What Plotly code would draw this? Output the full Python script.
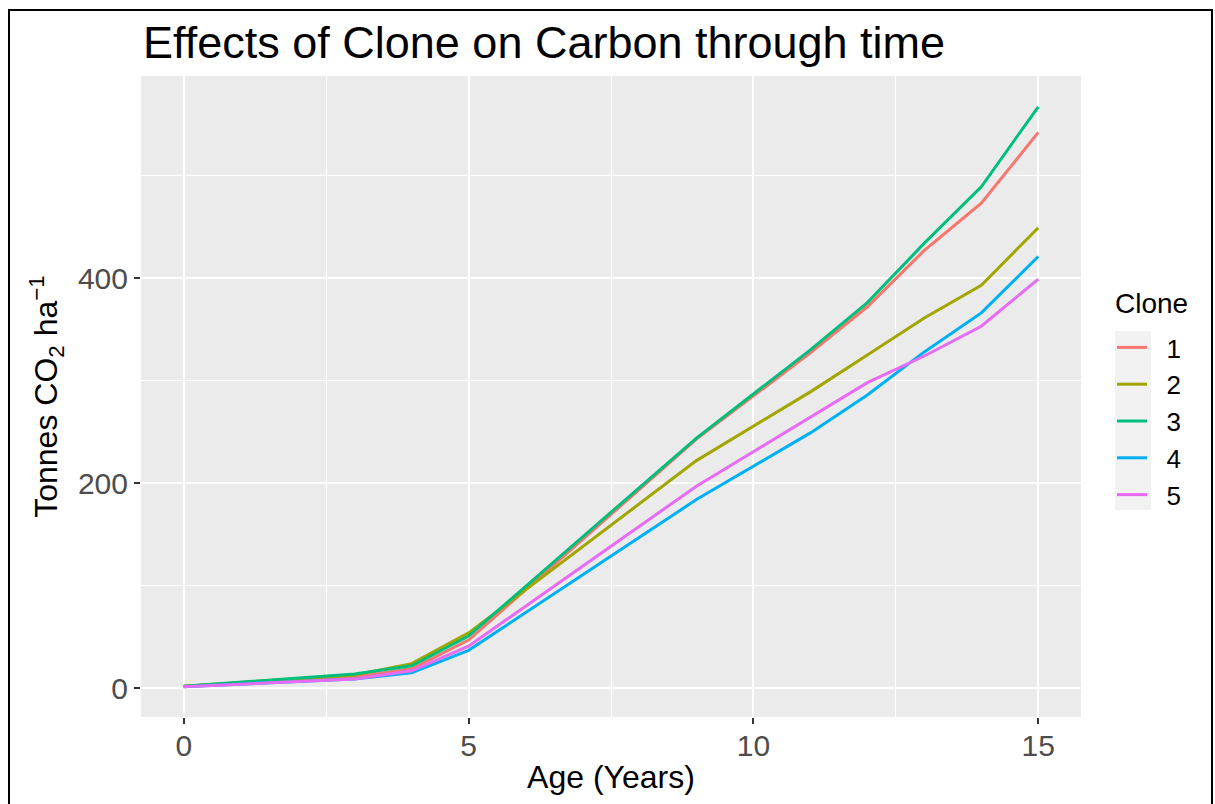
import plotly.graph_objects as go

ages = [0, 3, 4, 5, 9, 11, 12, 13, 14, 15]
clone_1 = [2, 11, 19, 47, 243, 327, 372, 427, 473, 542]
clone_2 = [2, 13, 24, 54, 222, 289, 325, 361, 393, 449]
clone_3 = [2, 14, 22, 51, 244, 330, 376, 434, 489, 567]
clone_4 = [1.5, 9, 15, 37, 184, 249, 286, 328, 366, 421]
clone_5 = [1.5, 9, 17, 41, 197, 264, 298, 324, 353, 399]
clone_names = ["1", "2", "3", "4", "5"]
clone_values = [clone_1, clone_2, clone_3, clone_4, clone_5]
colors = ["#F8766D", "#A3A500", "#00BF7D", "#00B0F6", "#E76BF3"]
x_ticks = [0, 5, 10, 15]
y_ticks = [0, 200, 400]

W, H = 1215, 804
L, R, T, B = 141, 134, 76, 87
pw, ph = W - L - R, H - T - B

def px(x):
    return (x - L) / pw

def py(y):
    return (H - B - y) / ph

fig = go.Figure()
for name, vals, col in zip(clone_names, clone_values, colors):
    fig.add_trace(go.Scatter(x=ages, y=vals, mode="lines", name="\u00a0\u00a0" + name,
                             line=dict(color=col, width=3)))

fig.update_layout(
    width=W, height=H,
    margin=dict(l=L, r=R, t=T, b=B, autoexpand=False),
    paper_bgcolor="white",
    plot_bgcolor="#EBEBEB",
    font=dict(family="Liberation Sans, Arial, sans-serif", color="black"),
    title=dict(text="Effects of Clone on Carbon through time",
               x=px(143), xref="paper", xanchor="left",
               y=1 - 42 / H, yref="container", yanchor="middle",
               font=dict(size=45, color="black")),
    xaxis=dict(range=[-0.75, 15.75], tickvals=x_ticks, ticktext=[str(v) for v in x_ticks],
               showgrid=True, gridcolor="white", gridwidth=2,
               minor=dict(tickvals=[2.5, 7.5, 12.5], showgrid=True, gridcolor="white", gridwidth=1, ticks=""),
               ticks="outside", ticklen=6, tickwidth=2, tickcolor="#333333",
               tickfont=dict(size=30, color="#4D4D4D"), ticklabelstandoff=-4,
               zeroline=False, showline=False, automargin=False,
               title=dict(text="Age (Years)", font=dict(size=32, color="black"), standoff=4)),
    yaxis=dict(range=[-28, 597], tickvals=y_ticks, ticktext=[str(v) for v in y_ticks],
               showgrid=True, gridcolor="white", gridwidth=2,
               minor=dict(tickvals=[100, 300, 500], showgrid=True, gridcolor="white", gridwidth=1, ticks=""),
               ticks="outside", ticklen=6, tickwidth=2, tickcolor="#333333",
               tickfont=dict(size=30, color="#4D4D4D"),
               zeroline=False, showline=False, automargin=False,
               title=dict(text="Tonnes CO<sub>2</sub> ha<sup>−1</sup>", font=dict(size=32, color="black"), standoff=10)),
    legend=dict(font=dict(size=26, color="black"),
                x=px(1112), xanchor="left", y=py(324), yanchor="top",
                bgcolor="rgba(0,0,0,0)", itemwidth=30, tracegroupgap=0),
    annotations=[
        dict(text="Clone", xref="paper", yref="paper", x=px(1113), y=py(303),
             xanchor="left", yanchor="middle", showarrow=False,
             font=dict(size=28, color="black")),
    ],
    shapes=[
        dict(type="rect", xref="paper", yref="paper",
             x0=px(1115), x1=px(1151), y0=py(510), y1=py(331),
             fillcolor="#F2F2F2", line=dict(width=0), layer="below"),
        dict(type="rect", xref="paper", yref="paper",
             x0=px(9), x1=px(1212), y0=py(812), y1=py(10),
             fillcolor="rgba(0,0,0,0)", line=dict(color="black", width=2)),
    ],
)

fig.write_html("out.html")
